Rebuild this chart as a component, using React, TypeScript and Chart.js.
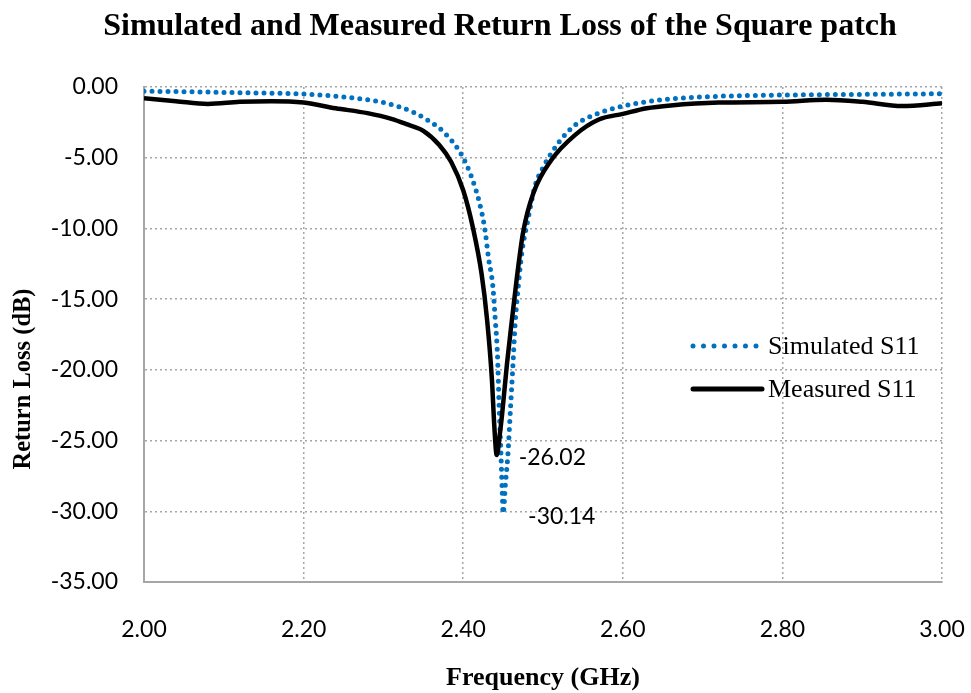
import { useEffect, useRef } from "react";
import { Chart, registerables } from "chart.js";

Chart.register(...registerables);

// Simulated S11 (dB) versus frequency (GHz)
const simFreq = [
  2.0, 2.05, 2.1, 2.15, 2.2, 2.25, 2.28, 2.3, 2.32, 2.34, 2.36, 2.37, 2.38, 2.39, 2.4,
  2.41, 2.42, 2.427, 2.432, 2.437, 2.44, 2.443, 2.445, 2.447, 2.449, 2.45, 2.453, 2.456,
  2.459, 2.462, 2.465, 2.469, 2.474, 2.48, 2.49, 2.5, 2.52, 2.54, 2.57, 2.6, 2.65, 2.7,
  2.8, 2.9, 3.0,
];
const simS11 = [
  -0.3, -0.33, -0.38, -0.43, -0.5, -0.7, -0.9, -1.1, -1.4, -1.85, -2.5, -2.9, -3.45, -4.1, -5.0,
  -6.3, -8.1, -10.0, -12.2, -14.0, -16.3, -19.0, -22.5, -25.5, -28.7, -30.14, -28.0, -26.0,
  -23.0, -20.0, -16.8, -14.1, -11.5, -9.7, -7.0, -5.7, -3.9, -2.7, -1.85, -1.35, -0.9, -0.7,
  -0.57, -0.52, -0.48,
];

// Measured S11 (dB) versus frequency (GHz)
const measFreq = [
  2.0, 2.04, 2.08, 2.12, 2.16, 2.2, 2.24, 2.28, 2.31, 2.33, 2.35, 2.37, 2.385, 2.4, 2.412,
  2.423, 2.43, 2.436, 2.439, 2.442, 2.446, 2.449, 2.455, 2.461, 2.467, 2.475, 2.488, 2.51,
  2.54, 2.57, 2.6, 2.63, 2.66, 2.72, 2.8, 2.855, 2.9, 2.95, 3.0,
];
const measS11 = [
  -0.8, -1.0, -1.2, -1.05, -1.0, -1.1, -1.5, -1.85, -2.25, -2.65, -3.1, -4.1, -5.3, -7.3, -9.9,
  -13.2, -16.5, -20.7, -24.0, -26.02, -24.5, -23.0, -19.5, -16.5, -13.6, -10.3, -7.5, -5.2,
  -3.4, -2.3, -1.9, -1.5, -1.3, -1.1, -1.05, -0.9, -1.05, -1.35, -1.15,
];

const seriesNames = ["Simulated S11", "Measured S11"];
const chartTitle = "Simulated and Measured Return Loss of the Square patch";
const xTitle = "Frequency (GHz)";
const yTitle = "Return Loss (dB)";
const xRange = [2.0, 3.0];
const yRange = [-35, 0];

const SIM_COLOR = "#0070C0";
const MEAS_COLOR = "#000000";
const GRID_COLOR = "#a6a6a6";
const SERIF = '"Liberation Serif", "Times New Roman", serif';
const SANS = 'Lato, "Open Sans", sans-serif';

function minIndex(values: number[]) {
  let k = 0;
  values.forEach((v, i) => {
    if (v < values[k]) k = i;
  });
  return k;
}

const textPlugin = {
  id: "chartText",
  afterDraw(chart: any) {
    const { ctx, chartArea, scales } = chart;
    const xs = scales.x;
    const ys = scales.y;
    ctx.save();
    ctx.fillStyle = "#000";
    ctx.textAlign = "center";
    ctx.textBaseline = "middle";

    ctx.font = `bold 32px ${SERIF}`;
    ctx.fillText(chartTitle, 500, 27);

    ctx.font = `bold 26px ${SERIF}`;
    ctx.fillText(xTitle, (chartArea.left + chartArea.right) / 2, 678);

    ctx.save();
    ctx.font = `bold 24.5px ${SERIF}`;
    ctx.translate(24, 379);
    ctx.rotate(-Math.PI / 2);
    ctx.fillText(yTitle, 0, 0);
    ctx.restore();

    // legend inside the plot area
    const lx0 = 693;
    const lx1 = 760;
    const rows = [346, 389];
    ctx.lineCap = "round";
    ctx.strokeStyle = SIM_COLOR;
    ctx.lineWidth = 5;
    ctx.setLineDash([0, 10.5]);
    ctx.beginPath();
    ctx.moveTo(lx0, rows[0]);
    ctx.lineTo(lx1, rows[0]);
    ctx.stroke();
    ctx.setLineDash([]);
    ctx.strokeStyle = MEAS_COLOR;
    ctx.lineWidth = 5;
    ctx.beginPath();
    ctx.moveTo(lx0, rows[1]);
    ctx.lineTo(lx1 + 2, rows[1]);
    ctx.stroke();

    ctx.textAlign = "left";
    ctx.font = `26px ${SERIF}`;
    ctx.fillText(seriesNames[0], 768, rows[0] + 1);
    ctx.fillText(seriesNames[1], 768, rows[1] + 1);

    // minimum value labels
    ctx.font = `23px ${SANS}`;
    const mi = minIndex(measS11);
    ctx.fillText(
      measS11[mi].toFixed(2),
      xs.getPixelForValue(measFreq[mi]) + 22,
      ys.getPixelForValue(measS11[mi]) + 3
    );
    const si = minIndex(simS11);
    ctx.fillText(
      simS11[si].toFixed(2),
      xs.getPixelForValue(simFreq[si]) + 25,
      ys.getPixelForValue(simS11[si]) + 3
    );
    ctx.restore();
  },
};

export default function App() {
  const canvasRef = useRef<HTMLCanvasElement | null>(null);

  useEffect(() => {
    if (!canvasRef.current) return;
    const chart = new Chart(canvasRef.current, {
      type: "line",
      data: {
        datasets: [
          {
            label: seriesNames[0],
            data: simFreq.map((f, i) => ({ x: f, y: simS11[i] })),
            borderColor: SIM_COLOR,
            borderWidth: 5,
            borderDash: [0, 8],
            borderCapStyle: "round",
            pointRadius: 0,
            cubicInterpolationMode: "monotone",
            fill: false,
            order: 2,
          },
          {
            label: seriesNames[1],
            data: measFreq.map((f, i) => ({ x: f, y: measS11[i] })),
            borderColor: MEAS_COLOR,
            borderWidth: 4.5,
            pointRadius: 0,
            cubicInterpolationMode: "monotone",
            borderJoinStyle: "round",
            fill: false,
            order: 1,
          },
        ],
      },
      options: {
        responsive: false,
        animation: false,
        layout: { padding: { top: 87, right: 29, left: 0, bottom: 0 } },
        plugins: {
          legend: { display: false },
          title: { display: false },
          tooltip: { enabled: false },
        },
        scales: {
          x: {
            type: "linear",
            min: xRange[0],
            max: xRange[1],
            afterFit: (s: any) => {
              s.height = 111;
              s.paddingLeft = 0;
              s.paddingRight = 0;
            },
            ticks: {
              stepSize: 0.2,
              padding: 34,
              color: "#000",
              font: { family: SANS, size: 23 },
              callback: (v: any) => Number(v).toFixed(2),
            },
            grid: { color: GRID_COLOR, lineWidth: 1.5, drawTicks: false },
            border: { display: true, color: GRID_COLOR, width: 2, dash: [2, 3] },
          },
          y: {
            type: "linear",
            min: yRange[0],
            max: yRange[1],
            afterFit: (s: any) => {
              s.width = 144;
              s.paddingTop = 0;
              s.paddingBottom = 0;
            },
            ticks: {
              stepSize: 5,
              padding: 26,
              color: "#000",
              font: { family: SANS, size: 23 },
              callback: (v: any) => Number(v).toFixed(2),
            },
            grid: { color: GRID_COLOR, lineWidth: 1.5, drawTicks: false },
            border: { display: true, color: GRID_COLOR, width: 2, dash: [2, 3] },
          },
        },
      },
      plugins: [textPlugin],
    });
    return () => chart.destroy();
  }, []);

  return (
    <div style={{ position: "absolute", left: 0, top: 0, width: 971, height: 693, background: "#fff" }}>
      <canvas ref={canvasRef} width={971} height={693} style={{ width: 971, height: 693 }} />
    </div>
  );
}
